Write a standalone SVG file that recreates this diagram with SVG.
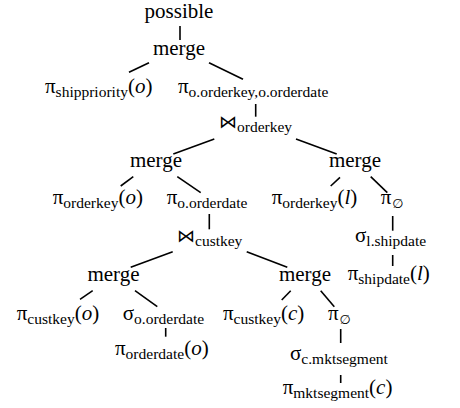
<svg xmlns="http://www.w3.org/2000/svg" width="460" height="408" viewBox="0 0 460 408">
<style>
text{font-family:'Liberation Serif',Tinos,'Times New Roman',Times,'DejaVu Serif',serif;font-size:21px;fill:#000}
.s{font-size:15.5px}
.i{font-style:italic}
.m{text-anchor:middle}
.j{font-family:'DejaVu Sans',sans-serif;font-size:18px;font-weight:normal}
.e{font-family:'DejaVu Sans',sans-serif;font-size:13px;font-style:italic}
#edges line{stroke:#000;stroke-width:1.6;stroke-linecap:butt}
</style>
<rect width="460" height="408" fill="#fff"/>
<g id="edges">
<line x1="180" y1="26" x2="180" y2="40"/>
<line x1="149" y1="62.7" x2="129" y2="72.3"/>
<line x1="209" y1="62.7" x2="243" y2="79.3"/>
<line x1="255.7" y1="104" x2="255.7" y2="116.7"/>
<line x1="214.3" y1="139" x2="173.3" y2="154"/>
<line x1="296" y1="139" x2="336.7" y2="154"/>
<line x1="133.3" y1="176.7" x2="120.7" y2="186"/>
<line x1="177.3" y1="176.7" x2="200.7" y2="192.7"/>
<line x1="340" y1="177.3" x2="330.7" y2="186"/>
<line x1="370.7" y1="176.7" x2="387.3" y2="192.7"/>
<line x1="209.3" y1="214" x2="209.3" y2="229.3"/>
<line x1="392.7" y1="216" x2="392.7" y2="230.7"/>
<line x1="172.7" y1="251.7" x2="130.7" y2="267.3"/>
<line x1="246.7" y1="251.7" x2="287.3" y2="267.3"/>
<line x1="392.7" y1="255" x2="392.7" y2="266"/>
<line x1="92.7" y1="290.7" x2="80" y2="299.3"/>
<line x1="135" y1="290.7" x2="157.3" y2="306.7"/>
<line x1="290.7" y1="290.7" x2="281.7" y2="300"/>
<line x1="320.7" y1="290.7" x2="334.3" y2="306.7"/>
<line x1="165.7" y1="328" x2="165.7" y2="336.7"/>
<line x1="340.7" y1="329" x2="340.7" y2="343"/>
<line x1="340.7" y1="375" x2="340.7" y2="383"/>
</g>
<g id="n_possible"><text class="m" x="179" y="17.5">possible</text></g>
<g id="n_merge1"><text class="m" x="179" y="55">merge</text></g>
<g id="n_pi_ship"><text x="45" y="93">π<tspan class="s" dy="4">shippriority</tspan><tspan dy="-4">(</tspan><tspan class="i">o</tspan>)</text></g>
<g id="n_pi_oo"><text x="178" y="93">π<tspan class="s" dy="4">o.orderkey,o.orderdate</tspan></text></g>
<g id="n_join1"><text x="219" y="128"><tspan class="j">⋈</tspan><tspan class="s" dy="4">orderkey</tspan></text></g>
<g id="n_merge2"><text class="m" x="156" y="167">merge</text></g>
<g id="n_merge3"><text class="m" x="355" y="167">merge</text></g>
<g id="n_pi_ok_o"><text x="52.7" y="204">π<tspan class="s" dy="4">orderkey</tspan><tspan dy="-4">(</tspan><tspan class="i">o</tspan>)</text></g>
<g id="n_pi_od"><text x="166.7" y="204">π<tspan class="s" dy="4">o.orderdate</tspan></text></g>
<g id="n_pi_ok_l"><text x="271.7" y="204">π<tspan class="s" dy="4">orderkey</tspan><tspan dy="-4">(</tspan><tspan class="i">l</tspan>)</text></g>
<g id="n_pi_e1"><text x="380.7" y="204">π<tspan class="e" dx="1" dy="4">∅</tspan></text></g>
<g id="n_join2"><text x="177" y="241.5"><tspan class="j">⋈</tspan><tspan class="s" dy="4">custkey</tspan></text></g>
<g id="n_sig_l"><text x="355" y="241.5">σ<tspan class="s" dy="4">l.shipdate</tspan></text></g>
<g id="n_merge4"><text class="m" x="113.5" y="280.5">merge</text></g>
<g id="n_merge5"><text class="m" x="305" y="280.5">merge</text></g>
<g id="n_pi_sd"><text x="347.7" y="280">π<tspan class="s" dy="4">shipdate</tspan><tspan dy="-4">(</tspan><tspan class="i">l</tspan>)</text></g>
<g id="n_pi_ck_o"><text x="16.7" y="320">π<tspan class="s" dy="4">custkey</tspan><tspan dy="-4">(</tspan><tspan class="i">o</tspan>)</text></g>
<g id="n_sig_od"><text x="122.7" y="320">σ<tspan class="s" dy="4">o.orderdate</tspan></text></g>
<g id="n_pi_ck_c"><text x="223" y="320">π<tspan class="s" dy="4">custkey</tspan><tspan dy="-4">(</tspan><tspan class="i">c</tspan>)</text></g>
<g id="n_pi_e2"><text x="328" y="320">π<tspan class="e" dx="1" dy="4">∅</tspan></text></g>
<g id="n_pi_odate"><text x="115" y="354.5">π<tspan class="s" dy="4">orderdate</tspan><tspan dy="-4">(</tspan><tspan class="i">o</tspan>)</text></g>
<g id="n_sig_c"><text x="290" y="360">σ<tspan class="s" dy="4">c.mktsegment</tspan></text></g>
<g id="n_pi_mkt"><text x="282.7" y="394">π<tspan class="s" dy="4">mktsegment</tspan><tspan dy="-4">(</tspan><tspan class="i">c</tspan>)</text></g>
</svg>
